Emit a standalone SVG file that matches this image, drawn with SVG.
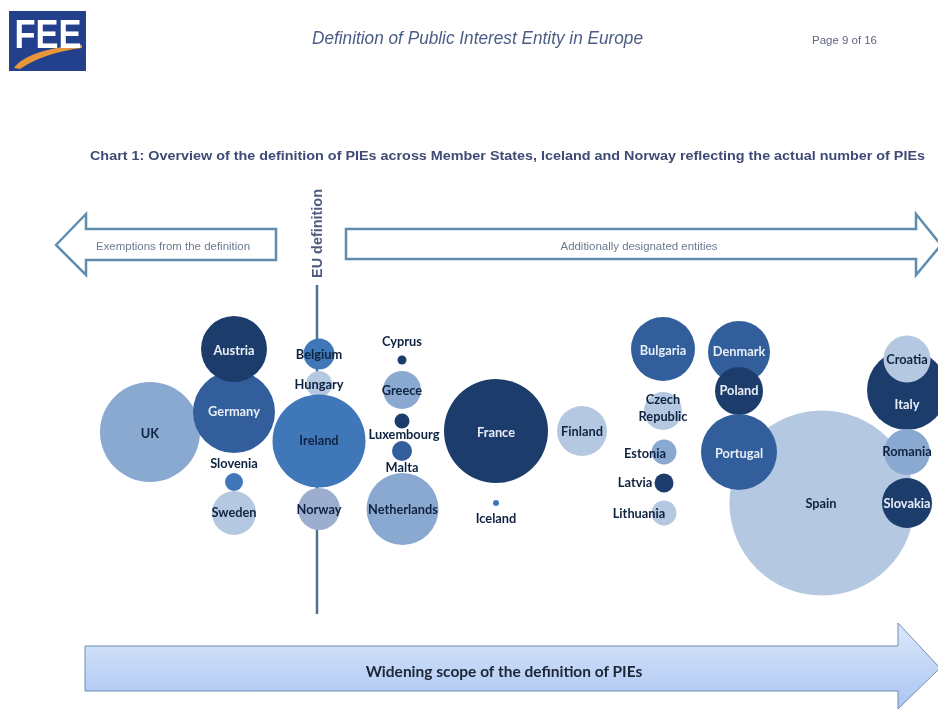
<svg xmlns="http://www.w3.org/2000/svg" width="938" height="709" viewBox="0 0 938 709">
<style>
.l{font-family:"Lato","Noto Sans",sans-serif;font-weight:700;font-size:12.8px;text-anchor:middle}
.d{fill:#1f3d6c}.m{fill:#305f9c}.b{fill:#3f77b8}.s{fill:#8aa9d1}.p{fill:#b5c8e1}.g{fill:#9dadcf}
.w{fill:#e8eef6}.k{fill:#10233f}
.a{fill:#fff;stroke:#5f8db0;stroke-width:2.5}
.h{font-family:"Liberation Sans",Arial,sans-serif}
</style>
<defs>
<linearGradient id="bar" x1="0" y1="0" x2="0" y2="1"><stop offset="0" stop-color="#dde8fb"/><stop offset="1" stop-color="#a9c5f2"/></linearGradient>
<filter id="soft" x="-2%" y="-2%" width="104%" height="104%"><feGaussianBlur stdDeviation="0.55"/></filter>
</defs>
<rect width="938" height="709" fill="#fff"/>
<g filter="url(#soft)">
<g id="logo">
<rect x="9" y="11" width="77" height="60" fill="#21418c"/>
<path d="M14 68C22 56 48 47 82 45L82 48C58 51 36 58 20 69Z" fill="#e8963a"/>
<text x="48" y="48" class="h" font-size="41" font-weight="700" fill="#fff" text-anchor="middle" textLength="67" lengthAdjust="spacingAndGlyphs">FEE</text>
</g>
<text x="312" y="44" class="h" font-size="17.800" font-style="italic" fill="#4d5c85" textLength="331" lengthAdjust="spacingAndGlyphs">Definition of Public Interest Entity in Europe</text>
<text x="812" y="44" class="h" font-size="11" fill="#5d6680" textLength="65" lengthAdjust="spacingAndGlyphs">Page 9 of 16</text>
<text x="90" y="160" class="h" font-size="13" font-weight="700" fill="#3f4b75" textLength="835" lengthAdjust="spacingAndGlyphs">Chart 1: Overview of the definition of PIEs across Member States, Iceland and Norway reflecting the actual number of PIEs</text>
<g id="connectors">
<path d="M317 285V614" stroke="#53718f" stroke-width="2.5" fill="none"/>
</g>
<g id="axis-label"><text transform="translate(322,278) rotate(-90)" class="h" font-size="14" font-weight="700" fill="#4d5c80" textLength="89" lengthAdjust="spacingAndGlyphs">EU definition</text></g>
<g id="exemptions">
<path class="a" d="M56 245L86 214V229H276V260H86V275Z"/>
<text x="173" y="250" class="h" font-size="11" fill="#6b7a90" text-anchor="middle" textLength="154" lengthAdjust="spacingAndGlyphs">Exemptions from the definition</text>
</g>
<g id="additional">
<path class="a" d="M346 229H916V214L941 245L916 275V259H346Z"/>
<text x="639" y="250" class="h" font-size="11" fill="#6b7a90" text-anchor="middle" textLength="157" lengthAdjust="spacingAndGlyphs">Additionally designated entities</text>
</g>
<g id="uk"><circle cx="150" cy="432" r="50" class="s"/><text x="150" y="438" class="l k">UK</text></g>
<g id="germany"><circle cx="234" cy="412" r="41" class="m"/><text x="234" y="416" class="l w">Germany</text></g>
<g id="austria"><circle cx="234" cy="349" r="33" class="d"/><text x="234" y="355" class="l w">Austria</text></g>
<g id="slovenia"><circle cx="234" cy="482" r="9" class="b"/><text x="234" y="468" class="l k">Slovenia</text></g>
<g id="sweden"><circle cx="234" cy="513" r="22" class="p"/><text x="234" y="517" class="l k">Sweden</text></g>
<g id="hungary"><circle cx="319" cy="384" r="13" class="p"/><text x="319" y="389" class="l k">Hungary</text></g>
<g id="belgium"><circle cx="319" cy="354" r="15.500" class="b"/><text x="319" y="359" class="l k">Belgium</text></g>
<g id="norway"><circle cx="319" cy="509" r="21" class="g"/><text x="319" y="514" class="l k">Norway</text></g>
<g id="ireland"><circle cx="319" cy="441" r="46.500" class="b"/><text x="319" y="445" class="l k">Ireland</text></g>
<g id="cyprus"><circle cx="402" cy="360" r="4.500" class="d"/><text x="402" y="346" class="l k">Cyprus</text></g>
<g id="greece"><circle cx="402" cy="390" r="19" class="s"/><text x="402" y="395" class="l k">Greece</text></g>
<g id="luxembourg"><circle cx="402" cy="421" r="7.500" class="d"/><text x="404" y="439" class="l k">Luxembourg</text></g>
<g id="malta"><circle cx="402" cy="451" r="10" class="m"/><text x="402" y="472" class="l k">Malta</text></g>
<g id="netherlands"><circle cx="402.500" cy="509" r="36" class="s"/><text x="403" y="514" class="l k">Netherlands</text></g>
<g id="france"><circle cx="496" cy="431" r="52" class="d"/><text x="496" y="437" class="l w">France</text></g>
<g id="iceland"><circle cx="496" cy="503" r="3" class="b"/><text x="496" y="523" class="l k">Iceland</text></g>
<g id="finland"><circle cx="582" cy="431" r="25" class="p"/><text x="582" y="436" class="l k">Finland</text></g>
<g id="bulgaria"><circle cx="663" cy="349" r="32" class="m"/><text x="663" y="355" class="l w">Bulgaria</text></g>
<g id="czech"><circle cx="663" cy="411" r="19" class="p"/><text x="663" y="404" class="l k">Czech</text><text x="663" y="421" class="l k">Republic</text></g>
<g id="estonia"><circle cx="664" cy="452" r="12.500" class="s"/><text x="645" y="458" class="l k">Estonia</text></g>
<g id="latvia"><circle cx="664" cy="483" r="9.500" class="d"/><text x="635" y="487" class="l k">Latvia</text></g>
<g id="lithuania"><circle cx="664" cy="513" r="12.500" class="p"/><text x="639" y="518" class="l k">Lithuania</text></g>
<g id="spain"><circle cx="822" cy="503" r="92.500" class="p"/><text x="821" y="508" class="l k">Spain</text></g>
<g id="denmark"><circle cx="739" cy="352" r="31" class="m"/><text x="739" y="356" class="l w">Denmark</text></g>
<g id="poland"><circle cx="739" cy="391" r="24" class="d"/><text x="739" y="395" class="l w">Poland</text></g>
<g id="portugal"><circle cx="739" cy="452" r="38" class="m"/><text x="739" y="458" class="l w">Portugal</text></g>
<g id="italy"><circle cx="907" cy="390" r="40" class="d"/><text x="907" y="409" class="l w">Italy</text></g>
<g id="croatia"><circle cx="907" cy="359" r="23.500" class="p"/><text x="907" y="364" class="l k">Croatia</text></g>
<g id="romania"><circle cx="907" cy="452" r="23" class="s"/><text x="907" y="456" class="l k">Romania</text></g>
<g id="slovakia"><circle cx="907" cy="503" r="25" class="d"/><text x="907" y="508" class="l w">Slovakia</text></g>
<g id="scope">
<path d="M85 646H898V623L940 668L898 709V691H85Z" fill="url(#bar)" stroke="#6f8fb5" stroke-width="1"/>
<text x="504" y="677" font-family="Lato,'Noto Sans',sans-serif" font-weight="700" font-size="15.500" fill="#1a2536" text-anchor="middle">Widening scope of the definition of PIEs</text>
</g>
</g>
</svg>
